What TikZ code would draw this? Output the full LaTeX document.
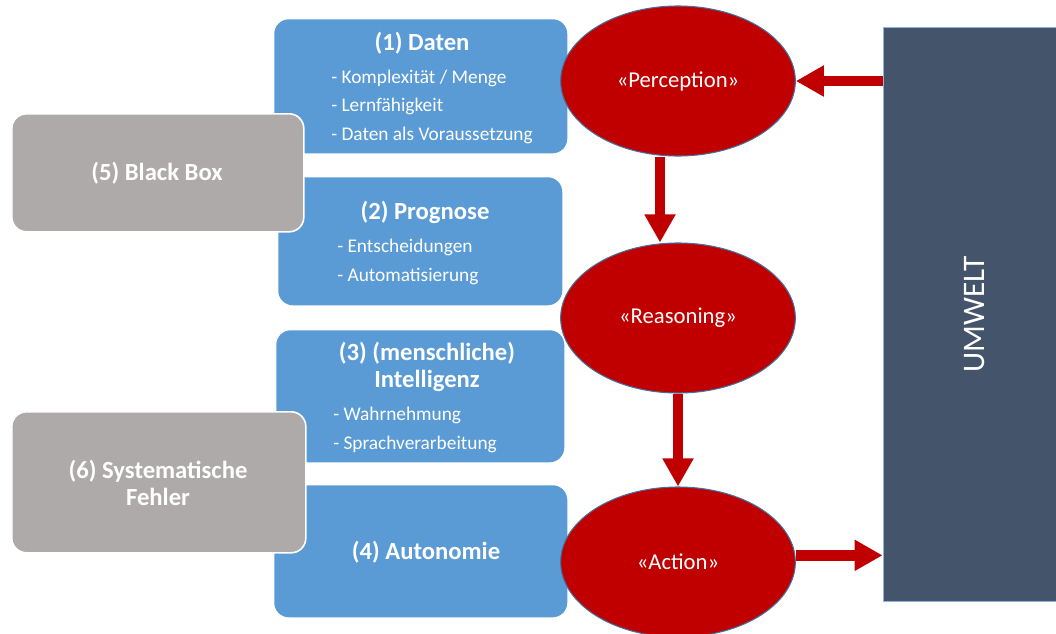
\documentclass[tikz,border=0pt]{standalone}
\usepackage{fontspec}
\setmainfont{Carlito}
\usetikzlibrary{shapes.geometric, arrows.meta, positioning}

\definecolor{kiblue}{HTML}{5B9BD5}
\definecolor{kigray}{HTML}{AEAAAA}
\definecolor{kired}{HTML}{C00000}
\definecolor{kiedge}{HTML}{41719C}
\definecolor{kislate}{HTML}{44546A}
\definecolor{kiline}{HTML}{8FB4DC}

\tikzset{
    topic/.style={rectangle, rounded corners=11pt, fill=kiblue, anchor=north west, inner sep=0pt},
    risk/.style={rectangle, rounded corners=11pt, fill=kigray, draw=white, line width=1.2pt, anchor=north west, inner sep=0pt},
    stage/.style={ellipse, fill=kired, draw=kiedge, line width=0.8pt, minimum width=176pt, minimum height=112.5pt, inner sep=0pt, text=white, font=\fontsize{17}{20}\selectfont},
    heading/.style={text=white, align=center, font=\bfseries\fontsize{18.5}{20.25}\selectfont},
    item/.style={text=white, anchor=west, inner sep=0pt, font=\fontsize{14.5}{16}\selectfont},
    flow/.style={draw=kired, line width=7.8pt, -{Triangle[width=22pt,length=21pt]}}
}

\begin{document}
\begin{tikzpicture}[x=0.75pt, y=-0.75pt]
        \useasboundingbox (0,0) rectangle (1056,633);

        % Blue boxes
        \node[topic, minimum width=219.75pt, minimum height=100.5pt] (daten) at (274,19) {};
        \node[topic, minimum width=213pt, minimum height=96pt] (prognose) at (278,177) {};
        \node[topic, minimum width=216pt, minimum height=99pt] (intelligenz) at (276,330) {};
        \node[topic, minimum width=219.75pt, minimum height=99pt] (autonomie) at (274,485) {};

        % Box texts
        \node[heading] (datenT) at (422,43) {(1) Daten};
        \node[item] (datenA) at (331,78) {- Komplexität / Menge};
        \node[item] (datenB) at (331,106) {- Lernfähigkeit};
        \node[item] (datenC) at (331,135) {- Daten als Voraussetzung};

        \node[heading] (prognoseT) at (425,212) {(2) Prognose};
        \node[item] (prognoseA) at (337,247) {- Entscheidungen};
        \node[item] (prognoseB) at (337,276) {- Automatisierung};

        \node[heading] (intelligenzT) at (427,367) {(3) (menschliche)\\Intelligenz};
        \node[item] (intelligenzA) at (333,415) {- Wahrnehmung};
        \node[item] (intelligenzB) at (333,444) {- Sprachverarbeitung};

        \node[heading] (autonomieT) at (426,552) {(4) Autonomie};

        % Gray boxes
        \node[risk, minimum width=219pt, minimum height=88.5pt] (blackbox) at (11,113) {};
        \node[risk, minimum width=220.5pt, minimum height=105.75pt] (fehler) at (11,411) {};
        \node[heading] (blackboxT) at (157,173) {(5) Black Box};
        \node[heading] (fehlerT) at (158,483) {(6) Systematische\\Fehler};

        % Ellipses
        \node[stage] (perc) at (678,81) {«Perception»};
        \node[stage] (reas) at (678,318) {«Reasoning»};
        \node[stage] (act) at (678,562) {«Action»};

        % Environment
        \node[rectangle, fill=kislate, draw=kiline, line width=0.6pt, minimum width=138pt, minimum height=430.5pt, inner sep=0pt, text=white, font=\fontsize{23.5}{26}\selectfont] (umwelt) at (975,314) {\rotatebox{90}{UMWELT}};

        % Arrows
        \draw[flow] ([xshift=-13.5pt]perc.south) -- ([xshift=-13.5pt]reas.north);
        \draw[flow] (reas.south) -- (act.north);
        \draw[flow] (umwelt.west |- perc.east) -- (perc.east);
        \draw[flow] ([yshift=5pt]act.east) -- ([yshift=5pt]act.east -| umwelt.west);
    \end{tikzpicture}
\end{document}
